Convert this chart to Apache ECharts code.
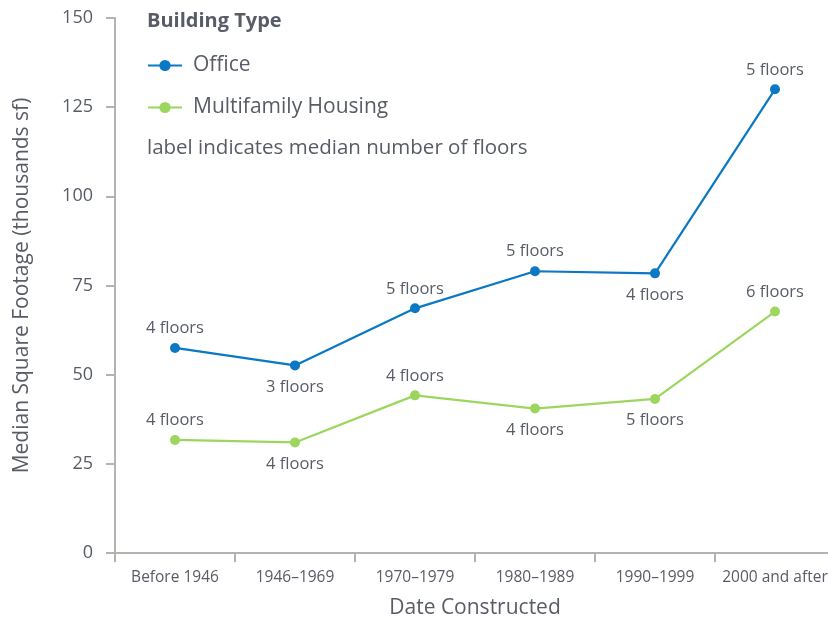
<!DOCTYPE html>
<html>
<head>
<meta charset="utf-8">
<script src="https://cdn.jsdelivr.net/npm/echarts@6/dist/echarts.min.js"></script>
<style>
  html, body { margin: 0; padding: 0; background: #fff; }
  #main { width: 828px; height: 622px; }
</style>
</head>
<body>
<div id="main"></div>
<script>
// data
var categories = ['Before 1946', '1946–1969', '1970–1979', '1980–1989', '1990–1999', '2000 and after'];
var officeValues = [57.5, 52.6, 68.6, 79.0, 78.4, 130.0];
var officeFloors = [4, 3, 5, 5, 4, 5];
var housingValues = [31.7, 31.0, 44.2, 40.5, 43.2, 67.7];
var housingFloors = [4, 4, 4, 4, 5, 6];
var yTicks = [0, 25, 50, 75, 100, 125, 150];

// where each label sits (style only)
var officeLabelPos = ['top', 'bottom', 'top', 'top', 'bottom', 'top'];
var housingLabelPos = ['top', 'bottom', 'top', 'bottom', 'bottom', 'top'];

var textColor = '#585c66';
var axisColor = '#b3b3b0';
var font = '"Open Sans", Lato, sans-serif';

function buildData(values, floors, pos) {
  return values.map(function (v, i) {
    return {
      value: v,
      label: { position: pos[i], distance: pos[i] === 'top' ? 6 : 8, formatter: floors[i] + ' floors' }
    };
  });
}

var myChart = echarts.init(document.getElementById('main'));

var option = {
  animation: false,
  textStyle: { fontFamily: font },
  title: [
    {
      text: 'Building Type',
      left: 147, top: 11, padding: 0,
      textStyle: { fontFamily: font, fontSize: 20, fontWeight: 'bold', color: textColor }
    },
    {
      text: 'label indicates median number of floors',
      left: 147, top: 138, padding: 0,
      textStyle: { fontFamily: font, fontSize: 20.5, fontWeight: 'normal', color: textColor }
    }
  ],
  legend: {
    orient: 'vertical',
    left: 147, top: 55, padding: 0,
    itemWidth: 34, itemHeight: 14, itemGap: 21,
    textStyle: { fontFamily: font, fontSize: 21, color: textColor, padding: [0, 0, 0, 6] },
    data: ['Office', 'Multifamily Housing']
  },
  grid: { left: 115, right: -7, top: 18, bottom: 69, outerBoundsMode: 'none' },
  xAxis: {
    type: 'category',
    data: categories,
    boundaryGap: true,
    name: 'Date Constructed',
    nameLocation: 'middle',
    nameGap: 45,
    nameTextStyle: { fontFamily: font, fontSize: 21, color: textColor },
    axisLine: { lineStyle: { color: axisColor, width: 2 } },
    axisTick: { show: true, length: 9, lineStyle: { color: axisColor, width: 2 } },
    axisLabel: { interval: 0, fontFamily: font, fontSize: 15.5, color: textColor, margin: 17 }
  },
  yAxis: {
    type: 'value',
    min: yTicks[0], max: yTicks[yTicks.length - 1], interval: 25,
    name: 'Median Square Footage (thousands sf)',
    nameLocation: 'middle',
    nameGap: 82,
    nameTextStyle: { fontFamily: font, fontSize: 21, color: textColor },
    axisLine: { show: true, lineStyle: { color: axisColor, width: 2 } },
    axisTick: { show: true, length: 9, lineStyle: { color: axisColor, width: 2 } },
    axisLabel: { fontFamily: font, fontSize: 18, color: textColor, margin: 22 },
    splitLine: { show: false }
  },
  series: [
    {
      name: 'Office',
      type: 'line',
      data: buildData(officeValues, officeFloors, officeLabelPos),
      symbol: 'circle', symbolSize: 10,
      lineStyle: { color: '#0a78c2', width: 2.2 },
      itemStyle: { color: '#0a78c2' },
      label: { show: true, fontFamily: font, fontSize: 16.5, color: textColor }
    },
    {
      name: 'Multifamily Housing',
      type: 'line',
      data: buildData(housingValues, housingFloors, housingLabelPos),
      symbol: 'circle', symbolSize: 10,
      lineStyle: { color: '#9cd65e', width: 2.2 },
      itemStyle: { color: '#9cd65e' },
      label: { show: true, fontFamily: font, fontSize: 16.5, color: textColor }
    }
  ]
};

myChart.setOption(option);
</script>
</body>
</html>
